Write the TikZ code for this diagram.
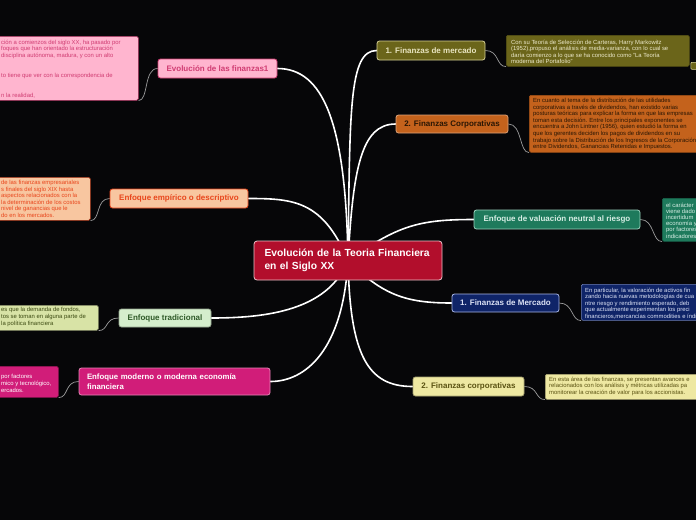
\documentclass[tikz,border=0pt]{standalone}
\usepackage{fontspec}
\setmainfont{Liberation Sans}
\usetikzlibrary{calc}
\pgfdeclarelayer{bg}
\pgfsetlayers{bg,main}
\definecolor{bgc}{HTML}{060608}
\definecolor{crim}{HTML}{B20E2C}
\definecolor{pinkf}{HTML}{FFB5CF}
\definecolor{pinkd}{HTML}{D03C72}
\definecolor{peachf}{HTML}{F8C6A0}
\definecolor{peachd}{HTML}{E8461C}
\definecolor{lgreenf}{HTML}{D5EECD}
\definecolor{lgreend}{HTML}{2F5A28}
\definecolor{ygreenf}{HTML}{D8E3A6}
\definecolor{ygreend}{HTML}{3C4A12}
\definecolor{magf}{HTML}{D11D79}
\definecolor{olivef}{HTML}{6B651A}
\definecolor{olived}{HTML}{D8D296}
\definecolor{oranf}{HTML}{C4621C}
\definecolor{orand}{HTML}{2A1604}
\definecolor{tealf}{HTML}{1E7A5C}
\definecolor{teald}{HTML}{9AD4BE}
\definecolor{navyf}{HTML}{0F2468}
\definecolor{navyd}{HTML}{A8B6E6}
\definecolor{yelf}{HTML}{EEE8A2}
\definecolor{yeld}{HTML}{5A5212}
\definecolor{linec}{HTML}{9C9C9C}
\tikzset{
  topic/.style={rounded corners=2.5pt, line width=0.8pt, inner sep=0pt,
    font=\bfseries\fontsize{8}{9.5}\selectfont, align=center},
  dbox/.style={rounded corners=1.5pt, line width=0.6pt, inner sep=0pt, anchor=north west},
  dtext/.style={inner sep=0pt, anchor=north west, align=left,
    font=\fontsize{5.9}{6.6}\selectfont},
  mainline/.style={white, line width=1.6pt, line cap=round},
  subline/.style={linec, line width=0.7pt},
}
\begin{document}
\begin{tikzpicture}[x=1pt,y=-1pt]
\useasboundingbox (0,0) rectangle (696,520);
\begin{pgfonlayer}{bg}
\fill[bgc] (0,0) rectangle (696,520);
\end{pgfonlayer}

% central node
\node[draw=white!75!crim, fill=crim, rounded corners=3pt, line width=0.8pt,
  text=white, font=\bfseries\fontsize{10.3}{12.8}\selectfont, align=left,
  text width=167pt, inner xsep=10.5pt, inner ysep=0pt, minimum height=39pt]
  (ct) at (348,260.5) {Evolución de la Teoria Financiera\\en el Siglo XX};

% left topics
\node[topic, draw=pinkd, fill=pinkf, text=pinkd, minimum width=119pt, minimum height=19pt]
  (f1) at (217.5,68.5) {Evolución de las finanzas1};
\node[topic, draw=peachd, fill=peachf, text=peachd, minimum width=138pt, minimum height=19pt]
  (emp) at (179,198.5) {Enfoque empírico o descriptivo};
\node[topic, draw=lgreenf!70!black, fill=lgreenf, text=lgreend, minimum width=92pt, minimum height=18pt]
  (trad) at (165,318) {Enfoque tradicional};
\node[topic, draw=magf!55!white, fill=magf, text=white, align=left, text width=175pt,
  inner xsep=8pt, minimum height=27pt, font=\bfseries\fontsize{7.8}{9.5}\selectfont]
  (mod) at (174.5,381.5) {Enfoque moderno o moderna economía\\financiera};

% right topics
\node[topic, draw=olived, fill=olivef, text=olived!60!white, minimum width=108pt, minimum height=19pt]
  (mer) at (431,50.5) {1. Finanzas de mercado};
\node[topic, draw=oranf!60!white, fill=oranf, text=orand, minimum width=112pt, minimum height=18pt]
  (cor) at (452,124) {2. Finanzas Corporativas};
\node[topic, draw=teald, fill=tealf, text=teald!40!white, minimum width=166pt, minimum height=19pt]
  (val) at (557,219.5) {Enfoque de valuación neutral al riesgo};
\node[topic, draw=navyd, fill=navyf, text=navyd!40!white, minimum width=107pt, minimum height=18pt]
  (mer2) at (505.5,303) {1. Finanzas de Mercado};
\node[topic, draw=yelf!70!black, fill=yelf, text=yeld, minimum width=111pt, minimum height=19pt]
  (cor2) at (468.5,386.5) {2. Finanzas corporativas};

% detail boxes (left)
\node[dbox, draw=pinkd!80!black, fill=pinkf, minimum width=143pt, minimum height=64pt] (dpink) at (-5,36) {};
\node[dtext, text=pinkd] (tpink) at (1,39.8) {ción a comienzos del siglo XX, ha pasado por\\
foques que han orientado la estructuración\\
disciplina autónoma, madura, y con un alto\\[13.2pt]
to tiene que ver con la correspondencia de\\[13.2pt]
n la realidad,};

\node[dbox, draw=peachd!70!black, fill=peachf, minimum width=95pt, minimum height=43pt] (dpeach) at (-5,177) {};
\node[dtext, text=peachd] (tpeach) at (1,180) {de las finanzas empresariales\\
s finales del siglo XIX hasta\\
aspectos relacionados con la\\
la determinación de los costos\\
nivel de ganancias que le\\
do en los mercados.};

\node[dbox, draw=ygreenf!60!black, fill=ygreenf, minimum width=103pt, minimum height=25pt] (dgreen) at (-5,305) {};
\node[dtext, text=ygreend] (tgreen) at (1,307.5) {es que la demanda de fondos,\\
tos se toman en alguna parte de\\
la política financiera};

\node[dbox, draw=magf!70!black, fill=magf, minimum width=63pt, minimum height=31pt] (dmag) at (-5,366) {};
\node[dtext, text=white] (tmag) at (1,374.5) {por factores\\
mico y tecnológico,\\
ercados.};

% detail boxes (right)
\node[dbox, draw=olivef!80!black, fill=olivef, minimum width=183pt, minimum height=31pt] (dolive) at (506,35) {};
\node[dtext, text=olived!50!white] (tolive) at (511,39.5) {Con su Teoría de Selección de Carteras, Harry Markowitz\\
(1952),propuso el análisis de media-varianza, con lo cual se\\
daría comienzo a lo que se ha conocido como "La Teoría\\
moderna del Portafolio"};
\node[draw=olived, fill=olivef, rounded corners=1pt, line width=0.6pt, minimum width=8pt,
  minimum height=7pt, inner sep=0pt, anchor=north west] (mk) at (690.5,62) {};

\node[dbox, draw=oranf!80!black, fill=oranf, minimum width=175pt, minimum height=57pt] (dorange) at (529,95) {};
\node[dtext, text=orand] (torange) at (533,98) {En cuanto al tema de la distribución de las utilidades\\
corporativas a través de dividendos, han existido varias\\
posturas teóricas para explicar la forma en que las empresas\\
toman esta decisión. Entre los principales exponentes se\\
encuentra a John Lintner (1956), quien estudió la forma en\\
que los gerentes deciden los pagos de dividendos en su\\
trabajo sobre la Distribución de los Ingresos de la Corporación\\
entre Dividendos, Ganancias Retenidas e Impuestos.};

\node[dbox, draw=tealf!80!black, fill=tealf, minimum width=40pt, minimum height=43pt] (dteal) at (662,198) {};
\node[dtext, text=teald!40!white, font=\fontsize{5.9}{6.2}\selectfont] (tteal) at (666,202.5) {el carácter\\
viene dado\\
incertidum\\
economía y\\
por factores\\
indicadores};

\node[dbox, draw=navyd!60!navyf, fill=navyf, minimum width=120pt, minimum height=36pt] (dnavy) at (581,284) {};
\node[dtext, text=navyd!40!white] (tnavy) at (585,287.5) {En particular, la valoración de activos fin\\
zando hacia nuevas metodologías de cua\\
ntre riesgo y rendimiento esperado, deb\\
que actualmente experimentan los preci\\
financieros,mercancías commodities e índi};

\node[dbox, draw=yelf!70!black, fill=yelf, minimum width=156pt, minimum height=25pt] (dyel) at (545,374) {};
\node[dtext, text=yeld] (tyel) at (549,376.5) {En esta área de las finanzas, se presentan avances e\\
relacionados con los análisis y métricas utilizadas pa\\
monitorear la creación de valor para los accionistas.};

% connectors
\begin{pgfonlayer}{bg}
\draw[mainline] (ct.center) .. controls +(-2,-140) and +(45,0) .. (f1.east);
\draw[mainline] (ct.center) .. controls +(-25,-60) and +(45,0) .. (emp.east);
\draw[mainline] (ct.center) .. controls +(-20,50) and +(55,0) .. (trad.east);
\draw[mainline] (ct.center) .. controls +(-5,90) and +(35,0) .. (mod.east);
\draw[mainline] (ct.center) .. controls +(2,-150) and +(-28,0) .. (mer.west);
\draw[mainline] (ct.center) .. controls +(5,-90) and +(-35,0) .. (cor.west);
\draw[mainline] (ct.center) .. controls +(50,-35) and +(-55,0) .. (val.west);
\draw[mainline] (ct.center) .. controls +(35,35) and +(-45,0) .. (mer2.west);
\draw[mainline] (ct.center) .. controls +(2,95) and +(-45,0) .. (cor2.west);

\draw[subline] (f1.west) .. controls +(-14,0) and +(10,0) .. (dpink.south east);
\draw[subline] (emp.west) .. controls +(-14,0) and +(10,0) .. (dpeach.south east);
\draw[subline] (trad.west) .. controls +(-14,0) and +(10,0) .. (dgreen.south east);
\draw[subline] (mod.west) .. controls +(-14,0) and +(10,0) .. (dmag.south east);
\draw[subline] (mer.east) .. controls +(14,0) and +(-10,0) .. (dolive.south west);
\draw[subline] (cor.east) .. controls +(14,0) and +(-10,0) .. (dorange.south west);
\draw[subline] (val.east) .. controls +(14,0) and +(-10,0) .. (dteal.south west);
\draw[subline] (mer2.east) .. controls +(14,0) and +(-10,0) .. (dnavy.south west);
\draw[subline] (cor2.east) .. controls +(14,0) and +(-10,0) .. (dyel.south west);
\end{pgfonlayer}
\end{tikzpicture}
\end{document}
